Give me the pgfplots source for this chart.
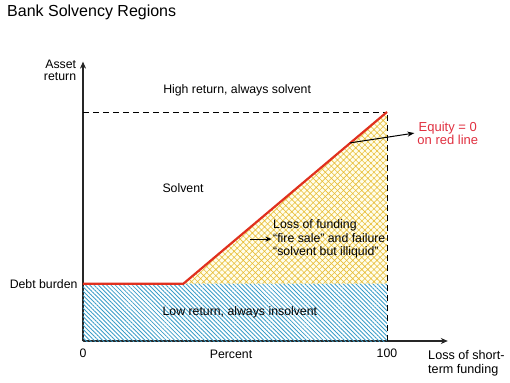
\documentclass[border=0pt]{standalone}
\usepackage{pgfplots}
\pgfplotsset{compat=1.18}
\usepackage{fontspec}
\setmainfont{Liberation Sans}
\usetikzlibrary{patterns.meta,arrows.meta}
\definecolor{hatchblue}{HTML}{3A9DC8}
\definecolor{hatchgold}{HTML}{E8BE3A}
\definecolor{redline}{HTML}{E0301E}
\definecolor{redtext}{HTML}{E03040}
\begin{document}
\begin{tikzpicture}
\useasboundingbox (-83pt,-41pt) rectangle (427pt,341pt);
\begin{axis}[
  at={(0pt,0pt)}, anchor=origin,
  x=3.04pt, y=2.29pt,
  xmin=0, xmax=120, ymin=0, ymax=122,
  axis lines=left,
  axis line style={line width=1.6pt, draw=black!85, -{Stealth[length=7pt,width=6pt]}},
  xtick={0,100}, xticklabels={0,100},
  ytick={25}, yticklabels={Debt burden},
  major tick length=0pt,
  tick style={draw=none},
  xticklabel style={font=\fontsize{12.3}{13}\selectfont, yshift=-4pt},
  yticklabel style={font=\fontsize{12.3}{13}\selectfont, xshift=-2pt},
  /pgf/number format/assume math mode=true,
  clip=false,
]
% blue region
\addplot[draw=none, pattern={Lines[angle=-45,distance=3pt,line width=0.85pt]}, pattern color=hatchblue]
  coordinates {(0,0) (100,0) (100,25) (0,25)} -- cycle;
% yellow region
\addplot[draw=none, fill=yellow!8] coordinates {(33,25) (100,100) (100,25)} -- cycle;
\addplot[draw=none, pattern={Hatch[angle=45,distance=4.3pt,line width=0.6pt]}, pattern color=hatchgold]
  coordinates {(33,25) (100,100) (100,25)} -- cycle;
% dashed lines
\addplot[black, line width=0.8pt, dash pattern=on 6pt off 4pt] coordinates {(0,100) (100,100)};
\addplot[black, line width=0.8pt, dash pattern=on 6pt off 4pt] coordinates {(100,0) (100,100)};
% red line
\addplot[redline, line width=2.2pt] coordinates {(0,25) (33,25) (100,100)};
% arrows
\draw[-{Stealth[length=7pt,width=5pt]}, line width=1pt] (axis cs:87.8,86.5) -- (axis cs:109.0,90.8);
\draw[-{Stealth[length=6pt,width=5pt]}, line width=1pt] (axis cs:54.8,44.5) -- (axis cs:62.0,44.5);
% texts
\node[font=\fontsize{12.3}{13}\selectfont] at (axis cs:50.7,109.6) {High return, always solvent};
\node[font=\fontsize{12.3}{13}\selectfont] at (axis cs:32.9,66.8) {Solvent};
\node[font=\fontsize{13}{13.6}\selectfont, text=redtext, align=center] at (axis cs:120,90.6) {Equity = 0\\on red line};
\node[font=\fontsize{12.3}{13.7}\selectfont, align=left, anchor=west, inner sep=0pt] at (axis cs:62.5,44.5) {Loss of funding\\“fire sale” and failure\\“solvent but illiquid”};
\node[font=\fontsize{12.3}{13}\selectfont] at (axis cs:51.6,12.7) {Low return, always insolvent};
\node[font=\fontsize{12.3}{13}\selectfont] at (axis cs:48.7,-5.7) {Percent};
\node[font=\fontsize{12.6}{14.5}\selectfont, align=left, anchor=west, inner sep=0pt] at (axis cs:113.5,-9.8) {Loss of short-\\term funding};
\node[font=\fontsize{12.3}{12}\selectfont, align=right, anchor=east, inner sep=0pt] at (axis cs:-2.2,118.3) {Asset\\return};
\end{axis}
\node[font=\fontsize{16}{18}\selectfont, anchor=west, inner sep=0pt] at (-76pt,329pt) {Bank Solvency Regions};
\end{tikzpicture}
\end{document}
